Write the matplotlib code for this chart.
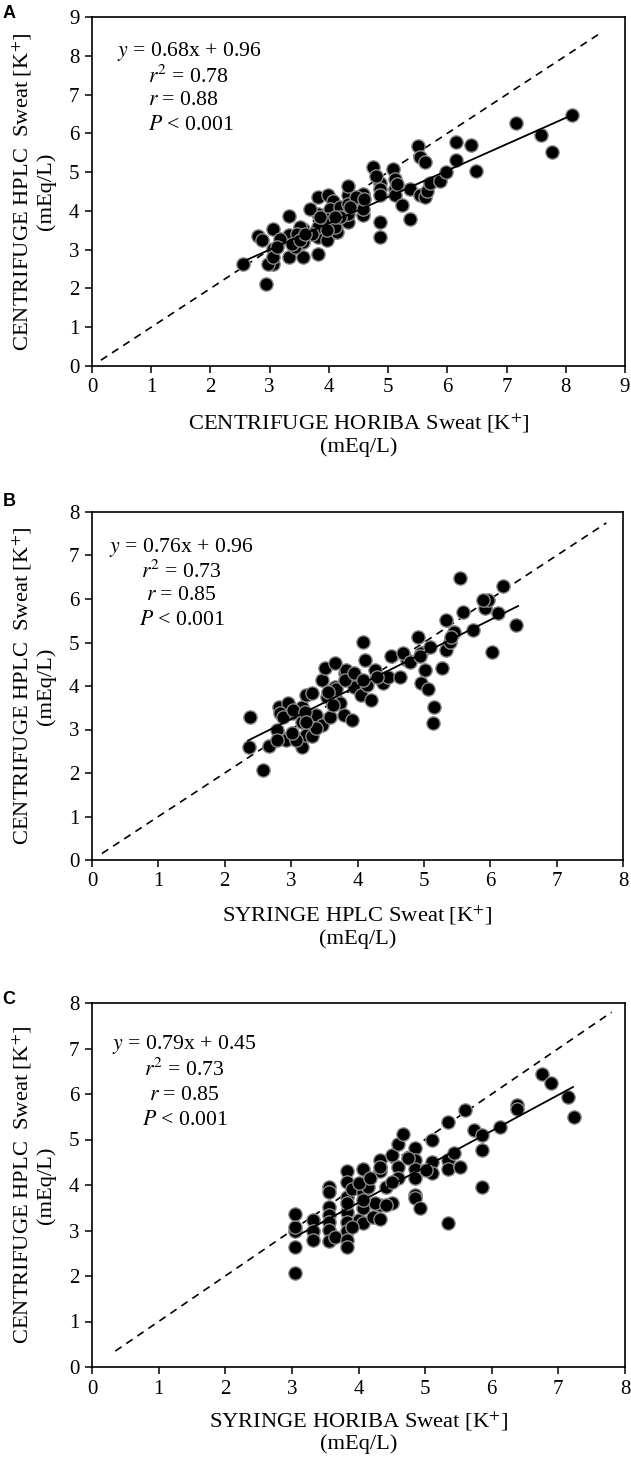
import matplotlib
matplotlib.use("Agg")
import matplotlib.pyplot as plt
import numpy as np

plt.rcParams['font.family'] = ['Liberation Serif', 'DejaVu Serif']
plt.rcParams['mathtext.fontset'] = 'stix'

# ---------------- data ----------------
a_x = [2.55, 2.94, 2.81, 3.05, 3.32, 3.06, 3.05, 2.98, 3.32, 3.57, 3.82, 3.32, 3.18, 3.57, 3.57,
       3.43, 3.82, 3.82, 3.82, 3.82, 3.99, 4.07, 4.02, 4.07, 3.96, 4.07, 4.18, 4.32, 4.32, 4.32,
       4.32, 4.32, 4.57, 4.57, 4.57, 4.57, 4.75, 4.86, 4.86, 4.86, 4.86, 4.86, 5.09, 5.12, 5.12,
       5.12, 5.23, 5.37, 5.37, 5.51, 5.54, 5.63, 5.54, 5.63, 5.66, 5.71, 5.88, 5.97, 6.14, 6.14,
       6.40, 6.48, 7.16, 7.58, 7.76, 8.10, 3.68, 3.51, 3.46, 3.71, 3.96, 4.13, 4.10, 4.18, 4.46,
       4.35, 4.80, 5.15, 3.06, 3.12, 3.37, 3.51, 3.60, 3.96, 3.85, 4.10, 4.60, 2.87]
a_y = [2.62, 2.11, 3.34, 3.54, 3.86, 3.02, 2.64, 2.64, 2.81, 2.81, 2.89, 3.37, 3.28, 3.54, 3.20,
       3.07, 3.32, 3.59, 3.93, 4.35, 4.40, 4.26, 4.05, 3.46, 3.25, 3.59, 4.09, 4.40, 4.65, 4.18,
       3.71, 3.93, 4.44, 4.26, 3.89, 4.05, 5.12, 4.73, 4.56, 4.40, 3.71, 3.32, 5.08, 4.82, 4.56,
       4.40, 4.14, 3.80, 4.56, 5.68, 5.38, 5.25, 4.40, 4.35, 4.52, 4.73, 4.78, 4.99, 5.77, 5.30,
       5.70, 5.03, 6.27, 5.96, 5.51, 6.46, 4.05, 3.59, 3.41, 3.41, 3.80, 3.46, 3.59, 3.85, 4.35,
       4.09, 4.90, 4.69, 2.81, 3.07, 3.15, 3.24, 3.41, 3.50, 3.85, 3.85, 4.30, 3.24]

b_x = [2.38, 2.37, 2.57, 2.66, 2.78, 2.81, 2.93, 2.96, 2.83, 3.01, 3.16, 3.23, 3.31, 3.16, 3.16,
       3.23, 3.31, 3.08, 3.38, 3.46, 3.58, 3.73, 3.79, 3.91, 3.46, 3.51, 3.66, 3.54, 3.66, 3.81,
       3.83, 3.94, 4.06, 4.08, 4.11, 4.14, 4.21, 4.26, 4.34, 4.39, 4.46, 4.51, 4.64, 4.74, 4.91,
       4.96, 4.96, 5.06, 5.09, 5.01, 5.16, 5.14, 5.27, 5.34, 5.34, 5.39, 5.46, 5.54, 5.59, 5.74,
       5.92, 5.97, 6.12, 6.19, 6.02, 6.39, 2.88, 3.03, 3.21, 3.38, 3.63, 3.68, 3.81, 3.94, 4.08,
       4.69, 4.79, 4.94, 5.41, 2.78, 3.01, 3.23, 3.56, 4.29, 5.89]
b_y = [3.29, 2.60, 2.07, 2.62, 2.99, 3.52, 2.76, 3.60, 3.37, 3.37, 3.52, 3.79, 3.83, 3.18, 2.60,
       2.87, 2.84, 2.76, 3.33, 3.10, 3.29, 3.60, 3.33, 3.22, 4.14, 4.41, 4.52, 3.75, 3.98, 4.29,
       4.37, 3.98, 3.79, 5.02, 4.60, 4.02, 3.68, 4.37, 4.18, 4.06, 4.21, 4.68, 4.21, 4.60, 5.13,
       4.75, 4.06, 3.94, 4.90, 4.37, 3.52, 3.14, 4.41, 4.83, 5.52, 5.02, 5.25, 6.48, 5.71, 5.29,
       5.79, 5.98, 5.67, 6.30, 4.79, 5.40, 3.29, 3.45, 3.41, 3.03, 3.56, 3.94, 4.14, 4.29, 4.14,
       4.75, 4.56, 4.68, 5.13, 2.76, 2.91, 3.18, 3.87, 4.21, 5.98]

c_x = [3.05, 3.05, 3.05, 3.05, 3.05, 3.31, 3.31, 3.31, 3.56, 3.56, 3.56, 3.56, 3.56, 3.56, 3.56,
       3.65, 3.82, 3.82, 3.82, 3.82, 3.82, 3.82, 3.82, 3.82, 3.90, 4.00, 4.07, 4.07, 4.07, 4.07,
       4.15, 4.22, 4.32, 4.32, 4.32, 4.32, 4.42, 4.50, 4.50, 4.60, 4.60, 4.60, 4.67, 4.85, 4.85,
       4.85, 4.85, 4.85, 4.85, 4.93, 5.10, 5.10, 5.10, 5.35, 5.35, 5.35, 5.35, 5.43, 5.53, 5.60,
       5.73, 5.85, 5.85, 5.85, 6.13, 6.38, 6.38, 6.76, 6.89, 7.14, 7.23, 4.00, 4.17, 4.25, 4.42,
       4.50, 4.75, 5.02, 3.82, 4.07, 4.32, 3.90]
c_y = [2.07, 2.63, 2.98, 3.08, 3.36, 3.23, 2.98, 2.79, 3.96, 3.85, 3.52, 3.34, 3.19, 3.01, 2.76,
       2.86, 4.30, 4.07, 3.74, 3.41, 3.19, 2.98, 2.79, 2.63, 3.92, 3.23, 4.36, 3.85, 3.49, 3.16,
       3.96, 3.30, 4.55, 4.30, 3.56, 3.26, 3.96, 4.66, 3.60, 4.91, 4.40, 4.15, 5.13, 4.81, 4.55,
       4.36, 4.15, 3.78, 3.71, 3.49, 4.99, 4.51, 4.26, 5.39, 4.55, 4.36, 3.16, 4.70, 4.40, 5.65,
       5.21, 5.10, 4.77, 3.96, 5.28, 5.76, 5.68, 6.45, 6.25, 5.94, 5.49, 4.04, 4.15, 3.60, 3.56,
       4.07, 4.59, 4.33, 3.60, 3.67, 4.40, 3.08]

panel_letters = ["A", "B", "C"]
x_labels = ["CENTRIFUGE HORIBA Sweat [K$^{+}$]\n(mEq/L)",
            "SYRINGE HPLC Sweat [K$^{+}$]\n(mEq/L)",
            "SYRINGE HORIBA Sweat [K$^{+}$]\n(mEq/L)"]
y_label = "CENTRIFUGE HPLC  Sweat [K$^{+}$]\n(mEq/L)"
axis_max = [9, 8, 8]
slopes = [0.68, 0.76, 0.79]
intercepts = [0.96, 0.96, 0.45]
r2_vals = ["0.78", "0.73", "0.73"]
r_vals = ["0.88", "0.85", "0.85"]
fit_range = [(2.5, 8.1), (2.35, 6.42), (3.05, 7.22)]
ident_range = [(0.15, 8.6), (0.15, 7.75), (0.35, 7.8)]

# ---------------- layout ----------------
W, H = 631, 1464
fig = plt.figure(figsize=(W / 100, H / 100), dpi=100)

# (left, top, right, bottom) in pixels
boxes = [(92, 17, 625, 366), (92, 512, 623, 860), (92, 1003, 625, 1367)]
xlab_y = [-0.197, -0.19, -0.178]
letter_pos = [(9, 14), (9, 502), (9, 999)]
ann = [dict(x=0.047, ha='left', y0=0.90, x2=0.105),
       dict(x=0.169, ha='center', y0=0.899, x2=0.169),
       dict(x=0.174, ha='center', y0=0.886, x2=0.174)]

datasets = [(a_x, a_y), (b_x, b_y), (c_x, c_y)]

for i in range(3):
    l, t, r, b = boxes[i]
    ax = fig.add_axes([l / W, 1 - b / H, (r - l) / W, (b - t) / H])
    xs, ys = datasets[i]
    m = axis_max[i]

    ax.scatter(xs, ys, s=92, c='black', edgecolors='#8a8a8a', linewidths=1.0, zorder=3)

    ix = np.array(ident_range[i])
    ax.plot(ix, ix, color='black', lw=1.2, ls=(0, (4.5, 3.5)), zorder=2)
    fx = np.array(fit_range[i])
    ax.plot(fx, slopes[i] * fx + intercepts[i], color='black', lw=1.3, zorder=4)

    ax.set_xlim(0, m)
    ax.set_ylim(0, m)
    ax.set_xticks(range(0, m + 1))
    ax.set_yticks(range(0, m + 1))
    ax.tick_params(direction='out', length=5, width=1.1, labelsize=15, pad=4,
                   top=False, right=False)
    for sp in ax.spines.values():
        sp.set_linewidth(1.2)

    ax.set_xlabel(x_labels[i], fontsize=16.2, linespacing=1.15)
    ax.xaxis.set_label_coords(0.5, xlab_y[i])
    ax.xaxis.label.set_va('center')
    ax.set_ylabel(y_label, fontsize=16.2, linespacing=1.15)
    ax.yaxis.set_label_coords(-0.11, 0.5)
    ax.yaxis.label.set_va('center')

    a = ann[i]
    dy = 0.07
    fs = 15.7
    ax.text(a['x'], a['y0'], r"$y$ = %.2fx + %.2f" % (slopes[i], intercepts[i]),
            transform=ax.transAxes, ha=a['ha'], va='center', fontsize=fs)
    ax.text(a['x2'], a['y0'] - dy, r"$r^{2}$ = " + r2_vals[i],
            transform=ax.transAxes, ha=a['ha'], va='center', fontsize=fs)
    ax.text(a['x2'], a['y0'] - 2 * dy, r"$r$ = " + r_vals[i],
            transform=ax.transAxes, ha=a['ha'], va='center', fontsize=fs)
    ax.text(a['x2'], a['y0'] - 3 * dy, r"$P$ < 0.001",
            transform=ax.transAxes, ha=a['ha'], va='center', fontsize=fs)

    lx, ly = letter_pos[i]
    fig.text(lx / W, 1 - ly / H, panel_letters[i], fontsize=13, fontweight='bold',
             family='Liberation Sans', ha='center', va='center')

fig.savefig("out.png", dpi=100)
